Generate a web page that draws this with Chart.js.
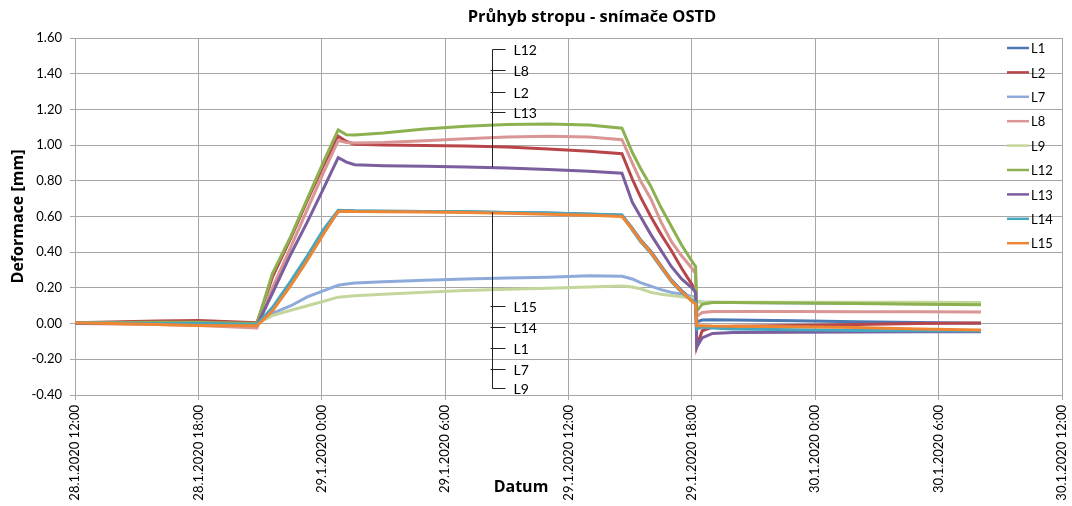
<!DOCTYPE html>
<html>
<head>
<meta charset="utf-8">
<script src="https://cdn.jsdelivr.net/npm/chart.js@4.4.1/dist/chart.umd.min.js"></script>
<style>
  html, body { margin: 0; padding: 0; background: #fff; }
  #wrap { width: 1072px; height: 506px; }
</style>
</head>
<body>
<div id="wrap"><canvas id="deflChart" width="1072" height="506"></canvas></div>
<script>
// time in hours counted from 28.1.2020 0:00
const hours = [12, 16, 18, 20.85, 21.6, 22.5, 23.3, 24.1, 24.8, 25.2, 25.6, 27, 29, 31, 33, 35, 37, 38.6,
  39.1, 39.5, 40, 40.5, 41, 41.5, 42.0, 42.18, 42.24, 42.5, 43, 44, 47, 50, 53, 56.06];

const L1  = [0.005, 0.0, 0.0, -0.005, 0.075, 0.22, 0.36, 0.51, 0.63, 0.633, 0.631, 0.629, 0.628, 0.626, 0.623, 0.619, 0.613, 0.607,
  0.535, 0.47, 0.405, 0.325, 0.245, 0.185, 0.135, 0.125, 0.01, 0.02, 0.022, 0.02, 0.016, 0.01, 0.006, 0.002];
const L2  = [0.005, 0.015, 0.018, 0.005, 0.26, 0.48, 0.69, 0.89, 1.05, 1.02, 1.005, 1.0, 0.998, 0.995, 0.99, 0.978, 0.965, 0.952,
  0.81, 0.71, 0.60, 0.50, 0.41, 0.31, 0.22, 0.18, -0.13, -0.04, -0.02, -0.015, -0.01, -0.005, 0.0, 0.003];
const L7  = [0.005, 0.005, 0.0, 0.0, 0.058, 0.10, 0.15, 0.185, 0.215, 0.222, 0.228, 0.235, 0.243, 0.25, 0.255, 0.26, 0.268, 0.265,
  0.25, 0.23, 0.21, 0.19, 0.175, 0.165, 0.152, 0.15, 0.125, 0.12, 0.12, 0.118, 0.115, 0.113, 0.112, 0.11];
const L8  = [0.0, -0.005, -0.01, -0.025, 0.2, 0.43, 0.64, 0.85, 1.025, 1.015, 1.012, 1.015, 1.025, 1.035, 1.045, 1.05, 1.045, 1.03,
  0.90, 0.80, 0.70, 0.57, 0.46, 0.38, 0.31, 0.28, 0.04, 0.062, 0.068, 0.068, 0.068, 0.067, 0.066, 0.065];
const L9  = [0.005, 0.005, 0.0, 0.0, 0.045, 0.075, 0.10, 0.125, 0.148, 0.152, 0.156, 0.165, 0.176, 0.186, 0.193, 0.198, 0.205, 0.21,
  0.205, 0.195, 0.175, 0.165, 0.158, 0.15, 0.143, 0.14, 0.125, 0.12, 0.12, 0.12, 0.12, 0.12, 0.12, 0.118];
const L12 = [0.005, 0.008, 0.008, 0.0, 0.28, 0.49, 0.70, 0.91, 1.085, 1.058, 1.057, 1.068, 1.09, 1.106, 1.115, 1.118, 1.112, 1.095,
  0.96, 0.87, 0.77, 0.65, 0.545, 0.44, 0.35, 0.32, 0.07, 0.108, 0.118, 0.118, 0.115, 0.112, 0.108, 0.105];
const L13 = [0.0, 0.0, 0.0, -0.01, 0.17, 0.39, 0.57, 0.76, 0.93, 0.905, 0.89, 0.885, 0.882, 0.878, 0.872, 0.864, 0.853, 0.842,
  0.68, 0.60, 0.50, 0.41, 0.32, 0.25, 0.20, 0.175, -0.13, -0.08, -0.055, -0.05, -0.048, -0.047, -0.046, -0.045];
const L14 = [0.005, 0.0, 0.0, -0.005, 0.09, 0.24, 0.38, 0.53, 0.635, 0.634, 0.632, 0.63, 0.628, 0.626, 0.623, 0.62, 0.614, 0.608,
  0.525, 0.46, 0.395, 0.315, 0.235, 0.175, 0.13, 0.12, -0.03, -0.02, -0.025, -0.03, -0.035, -0.038, -0.04, -0.042];
const L15 = [0.005, -0.005, -0.01, -0.012, 0.07, 0.215, 0.355, 0.505, 0.628, 0.63, 0.628, 0.626, 0.625, 0.622, 0.618, 0.613, 0.607, 0.6,
  0.53, 0.465, 0.40, 0.32, 0.24, 0.18, 0.125, 0.11, -0.012, -0.012, -0.014, -0.015, -0.018, -0.022, -0.03, -0.036];

const seriesNames = ["L1", "L2", "L7", "L8", "L9", "L12", "L13", "L14", "L15"];
const seriesValues = [L1, L2, L7, L8, L9, L12, L13, L14, L15];
const seriesColors = ["#4a78b4", "#b8454a", "#8eaadb", "#d99694", "#c3d69b", "#8db150", "#7b5e9e", "#45a7c0", "#ef8634"];

const xTickHours = [12, 18, 24, 30, 36, 42, 48, 54, 60];
const xTickLabels = ["28.1.2020 12:00", "28.1.2020 18:00", "29.1.2020 0:00", "29.1.2020 6:00", "29.1.2020 12:00",
  "29.1.2020 18:00", "30.1.2020 0:00", "30.1.2020 6:00", "30.1.2020 12:00"];

// callout brackets
const calloutHour = 32.3;
const upperNames = ["L12", "L8", "L2", "L13"];
const upperLevels = [1.54, 1.42, 1.30, 1.185];
const upperEnd = 0.876;
const lowerNames = ["L15", "L14", "L1", "L7", "L9"];
const lowerLevels = [0.10, -0.02, -0.138, -0.255, -0.36];
const lowerEnd = 0.625;

const FONT = "Lato, 'Open Sans', sans-serif";
const BOLD = "'Open Sans', Lato, sans-serif";
const GRID = "#a6a6a6";

const decor = {
  id: "decor",
  afterDraw(chart) {
    const { ctx, chartArea: a, scales: { x, y } } = chart;
    ctx.save();
    ctx.fillStyle = "#000";
    ctx.textBaseline = "middle";

    // title + axis titles
    ctx.textAlign = "center";
    ctx.font = "bold 16.5px " + BOLD;
    ctx.fillText("Průhyb stropu - snímače OSTD", 592, 17);
    ctx.font = "bold 16px " + BOLD;
    ctx.fillText("Datum", 521, 487);
    ctx.save();
    ctx.translate(18, (a.top + a.bottom) / 2);
    ctx.rotate(-Math.PI / 2);
    ctx.fillText("Deformace [mm]", 0, 0);
    ctx.restore();

    // legend inside the plot, right side
    ctx.font = "13px " + FONT;
    ctx.textAlign = "left";
    seriesNames.forEach((n, i) => {
      const yy = a.top + 10 + i * 24.4;
      ctx.strokeStyle = seriesColors[i];
      ctx.lineWidth = 2.5;
      ctx.beginPath();
      ctx.moveTo(a.right - 55, yy);
      ctx.lineTo(a.right - 33, yy);
      ctx.stroke();
      ctx.fillText(n, a.right - 31, yy + 1);
    });

    // callouts
    const cx = Math.round(x.getPixelForValue(calloutHour)) + 0.5;
    ctx.strokeStyle = "#222";
    ctx.lineWidth = 1;
    ctx.font = "14px " + FONT;
    const bracket = (names, levels, endVal, cornerIdx) => {
      const ys = levels.map(v => Math.round(y.getPixelForValue(v)) + 0.5);
      const yEnd = y.getPixelForValue(endVal);
      ctx.beginPath();
      ctx.moveTo(cx, ys[cornerIdx]);
      ctx.lineTo(cx, yEnd);
      ys.forEach((yy, i) => {
        ctx.moveTo(i === cornerIdx ? cx : cx - 2, yy);
        ctx.lineTo(cx + 13, yy);
      });
      ctx.stroke();
      names.forEach((n, i) => ctx.fillText(n, cx + 21, ys[i] + 1));
    };
    bracket(upperNames, upperLevels, upperEnd, 0);
    bracket(lowerNames, lowerLevels, lowerEnd, lowerNames.length - 1);
    ctx.restore();
  }
};

const datasets = seriesNames.map((n, i) => ({
  label: n,
  data: hours.map((h, k) => ({ x: h, y: seriesValues[i][k] })),
  borderColor: seriesColors[i],
  backgroundColor: seriesColors[i],
  borderWidth: 3,
  pointRadius: 0,
  tension: 0,
  fill: false,
  order: seriesNames.length - i
}));

new Chart(document.getElementById("deflChart").getContext("2d"), {
  type: "line",
  data: { datasets },
  options: {
    responsive: false,
    animation: false,
    devicePixelRatio: 1,
    layout: { padding: { top: 38, right: 10, left: 0, bottom: 0 } },
    plugins: { legend: { display: false }, title: { display: false }, tooltip: { enabled: false } },
    scales: {
      x: {
        type: "linear",
        min: 12,
        max: 60,
        afterBuildTicks: s => { s.ticks = xTickHours.map(v => ({ value: v })); },
        afterFit: s => { s.height = 111; s.paddingRight = 0; s.paddingLeft = 0; },
        ticks: {
          autoSkip: false,
          minRotation: 90,
          maxRotation: 90,
          padding: 5,
          color: "#000",
          font: { family: FONT, size: 13 },
          callback: v => xTickLabels[xTickHours.indexOf(v)]
        },
        grid: { color: GRID, tickLength: 5, lineWidth: 1 },
        border: { color: GRID }
      },
      y: {
        min: -0.4,
        max: 1.6,
        afterFit: s => { s.width = 75; },
        ticks: {
          stepSize: 0.2,
          padding: 8,
          color: "#000",
          font: { family: FONT, size: 13 },
          callback: v => (Math.round(v * 100) / 100).toFixed(2)
        },
        grid: { color: GRID, tickLength: 5, lineWidth: 1 },
        border: { color: GRID }
      }
    }
  },
  plugins: [decor]
});
</script>
</body>
</html>
